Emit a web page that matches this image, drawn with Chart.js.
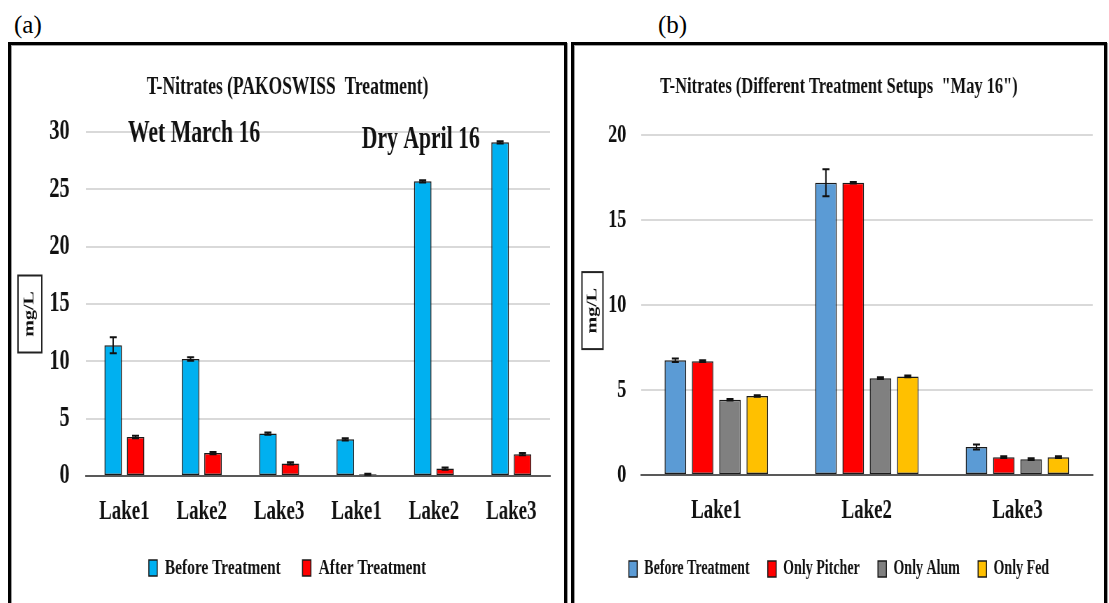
<!DOCTYPE html>
<html>
<head>
<meta charset="utf-8">
<script src="https://cdn.jsdelivr.net/npm/chart.js@4"></script>
<style>
  html, body { margin: 0; padding: 0; background: #fff; }
  body { width: 1109px; height: 603px; position: relative; overflow: hidden; font-family: 'Liberation Serif', 'Times New Roman', serif; }
  .tag { position: absolute; top: 12px; font-size: 25px; line-height: 25px; color: #000; }
  .panel { position: absolute; top: 42px; height: 580px; border: 3px solid #000; box-sizing: border-box;
           box-shadow: inset 1px 1px 0 #a0a0a0, 1px 1px 0 #a0a0a0; }
  .squash { position: absolute; left: 0; top: 0; height: 558px; transform: scaleX(0.7); transform-origin: 0 0; }
</style>
</head>
<body>
<div class="tag" style="left:14px">(a)</div>
<div class="tag" style="left:658px">(b)</div>

<div class="panel" style="left:8px; width:559px;">
  <div class="squash" style="width:790px"><canvas id="chart-a"></canvas></div>
</div>
<div class="panel" style="left:571px; width:536px;">
  <div class="squash" style="width:757px"><canvas id="chart-b"></canvas></div>
</div>

<script>
// (a) PAKOSWISS treatment, wet March 16 then dry April 16
const lakesA = ['Lake1', 'Lake2', 'Lake3', 'Lake1', 'Lake2', 'Lake3'];
const beforeA = [11.4, 10.2, 3.7, 3.2, 25.7, 29.1];
const beforeErrA = [0.7, 0.15, 0.1, 0.1, 0.1, 0.1];
const afterA = [3.4, 2.0, 1.1, 0.15, 0.65, 1.9];
const afterErrA = [0.1, 0.1, 0.1, 0.05, 0.1, 0.1];
const periodsA = ['Wet March 16', 'Dry April 16'];

// (b) different treatment setups, May 16
const lakesB = ['Lake1', 'Lake2', 'Lake3'];
const beforeB = [6.75, 17.2, 1.65];
const beforeErrB = [0.1, 0.8, 0.15];
const pitcherB = [6.7, 17.2, 1.05];
const pitcherErrB = [0.05, 0.05, 0.05];
const alumB = [4.43, 5.7, 0.93];
const alumErrB = [0.05, 0.05, 0.05];
const fedB = [4.65, 5.8, 1.05];
const fedErrB = [0.05, 0.05, 0.05];

const SERIF = "'Liberation Serif', 'Times New Roman', serif";
const INK = '#111';

const errorBars = {
    id: 'errorBars',
    afterDatasetsDraw(chart) {
        const ctx = chart.ctx;
        const y = chart.scales.y;
        chart.data.datasets.forEach((ds, i) => {
            if (!ds.errors) return;
            chart.getDatasetMeta(i).data.forEach((bar, j) => {
                const top = y.getPixelForValue(ds.data[j] + ds.errors[j]);
                const bot = y.getPixelForValue(Math.max(0, ds.data[j] - ds.errors[j]));
                ctx.save();
                ctx.strokeStyle = INK;
                ctx.lineWidth = 2;
                ctx.beginPath();
                ctx.moveTo(bar.x, top); ctx.lineTo(bar.x, bot);
                ctx.moveTo(bar.x - 5, top); ctx.lineTo(bar.x + 5, top);
                ctx.moveTo(bar.x - 5, bot); ctx.lineTo(bar.x + 5, bot);
                ctx.stroke();
                ctx.restore();
            });
        });
    }
};

// boxed, rotated unit label on the left of the value axis
const unitBox = {
    id: 'unitBox',
    afterDraw(chart, args, o) {
        if (!o.text) return;
        const {ctx, chartArea} = chart;
        const cy = (chartArea.top + chartArea.bottom) / 2 + o.shift;
        const x = chart.scales.y.left + o.left;
        ctx.save();
        ctx.strokeStyle = '#222';
        ctx.lineWidth = 2;
        ctx.strokeRect(x, cy - o.height / 2, o.width, o.height);
        ctx.translate(x + o.width / 2, cy);
        ctx.rotate(-Math.PI / 2);
        ctx.font = 'bold 20px ' + SERIF;
        ctx.fillStyle = INK;
        ctx.textAlign = 'center';
        ctx.textBaseline = 'middle';
        ctx.fillText(o.text, 0, 0);
        ctx.restore();
    }
};

// period captions placed in data units
const periodNotes = {
    id: 'periodNotes',
    afterDatasetsDraw(chart, args, o) {
        if (!o.texts) return;
        const {ctx, scales} = chart;
        ctx.save();
        ctx.font = 'bold 31px ' + SERIF;
        ctx.fillStyle = INK;
        ctx.textAlign = 'center';
        ctx.textBaseline = 'alphabetic';
        o.texts.forEach((t, i) => {
            ctx.fillText(t, scales.x.getPixelForValue(o.at[i]), scales.y.getPixelForValue(o.level[i]));
        });
        ctx.restore();
    }
};

function bars(label, data, errors, color) {
    return {
        label, data, errors,
        backgroundColor: color,
        borderColor: '#1a1a1a',
        borderWidth: 1.5,
        borderSkipped: false
    };
}

function baseOptions(cfg) {
    return {
        responsive: true,
        maintainAspectRatio: false,
        animation: false,
        devicePixelRatio: 1,
        layout: { padding: { left: 0, right: 0, top: 0, bottom: cfg.padBottom } },
        datasets: { bar: { categoryPercentage: cfg.cp, barPercentage: cfg.bp } },
        plugins: {
            title: {
                display: true,
                text: cfg.title,
                color: INK,
                font: { family: SERIF, size: cfg.titleSize, weight: 'bold', lineHeight: 1.2 },
                padding: { top: cfg.titleTop, bottom: cfg.titleBottom }
            },
            legend: {
                position: 'bottom',
                labels: {
                    color: INK,
                    font: { family: SERIF, size: cfg.legendSize, weight: 'bold' },
                    boxWidth: 12,
                    boxHeight: 16,
                    padding: cfg.legendPad
                }
            },
            tooltip: { enabled: false },
            unitBox: cfg.unit,
            periodNotes: cfg.notes || {}
        },
        scales: {
            x: {
                grid: { display: false, drawTicks: false },
                border: { display: true, color: '#595959', width: 2 },
                ticks: { color: INK, padding: 20, font: { family: SERIF, size: 27, weight: 'bold' } },
                afterFit: s => { s.height = cfg.xHeight; }
            },
            y: {
                min: 0,
                max: cfg.max,
                ticks: { stepSize: 5, color: INK, padding: cfg.tickPad, font: { family: SERIF, size: cfg.tickSize, weight: 'bold' } },
                grid: { color: '#d9d9d9', lineWidth: 2, drawTicks: false },
                border: { display: false },
                afterFit: s => { s.width = cfg.yWidth; }
            },
            gap: {
                position: 'right',
                grid: { display: false },
                ticks: { display: false },
                border: { display: false },
                afterFit: s => { s.width = cfg.gap; }
            }
        }
    };
}

new Chart(document.getElementById('chart-a'), {
    type: 'bar',
    data: {
        labels: lakesA,
        datasets: [
            bars('Before Treatment', beforeA, beforeErrA, '#00b0f0'),
            bars('After Treatment', afterA, afterErrA, '#ff0000')
        ]
    },
    options: baseOptions({
        title: 'T-Nitrates (PAKOSWISS  Treatment)', titleSize: 25, titleTop: 28, titleBottom: 29,
        legendSize: 22, legendPad: 31, padBottom: 14, xHeight: 50,
        cp: 0.58, bp: 0.78, max: 30, tickSize: 29, tickPad: 23, yWidth: 106.7, gap: 20,
        unit: { text: 'mg/L', left: 10, width: 34, height: 77, shift: 10 },
        notes: { texts: periodsA, at: [0.9, 3.83], level: [29.16, 28.6] }
    }),
    plugins: [errorBars, unitBox, periodNotes]
});

new Chart(document.getElementById('chart-b'), {
    type: 'bar',
    data: {
        labels: lakesB,
        datasets: [
            bars('Before Treatment', beforeB, beforeErrB, '#5b9bd5'),
            bars('Only Pitcher', pitcherB, pitcherErrB, '#ff0000'),
            bars('Only Alum', alumB, alumErrB, '#808080'),
            bars('Only Fed', fedB, fedErrB, '#ffc000')
        ]
    },
    options: baseOptions({
        title: 'T-Nitrates (Different Treatment Setups  "May 16")', titleSize: 23.5, titleTop: 28, titleBottom: 34,
        legendSize: 20, legendPad: 26, padBottom: 14, xHeight: 58,
        cp: 0.725, bp: 0.79, max: 20, tickSize: 26, tickPad: 21, yWidth: 95.7, gap: 16,
        unit: { text: 'mg/L', left: 11.4, width: 30, height: 77, shift: 5.5 }
    }),
    plugins: [errorBars, unitBox, periodNotes]
});
</script>
</body>
</html>
